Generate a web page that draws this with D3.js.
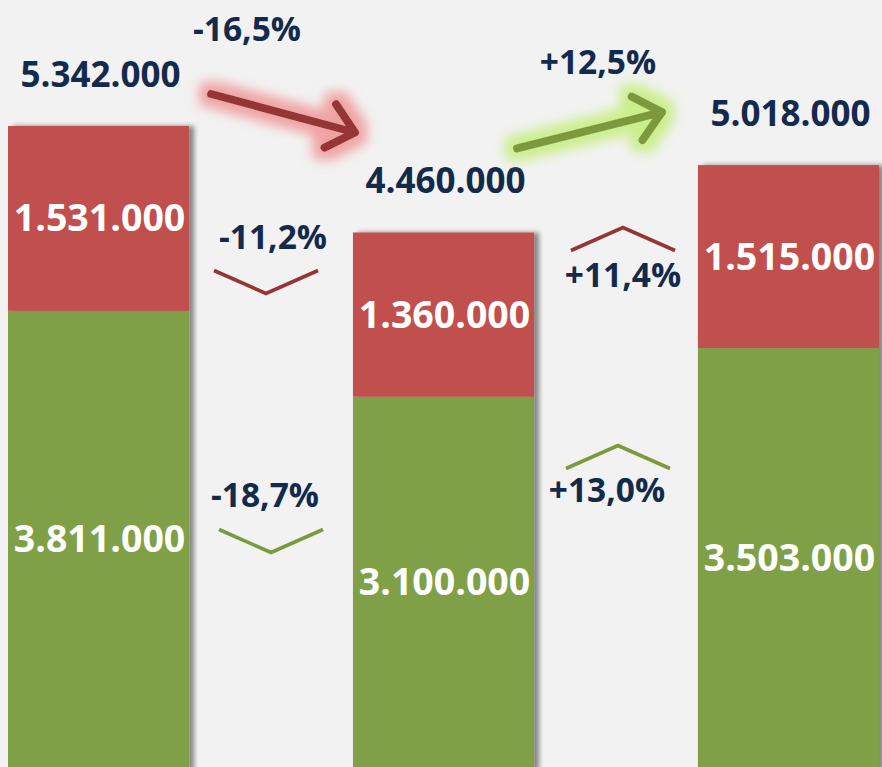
<!DOCTYPE html>
<html><head><meta charset="utf-8">
<script src="https://cdn.jsdelivr.net/npm/d3@7/dist/d3.min.js"></script>
<style>
html,body{margin:0;padding:0;background:#f2f2f2;overflow:hidden}
svg{display:block}
</style></head>
<body>
<svg id="chart" width="882" height="767"></svg>
<script>
// ---- data ----
const categories = ["A", "B", "C"];
const greenValues = [3811000, 3100000, 3503000];
const redValues   = [1531000, 1360000, 1515000];

// ---- style ----
const W = 882, H = 767;
const RED = "#c0504d", GREEN = "#80a046";
const RED_DARK = "#963634", GREEN_DARK = "#7c9a3c";
const NAVY = "#142a4c";
const FONT = "'Open Sans', Lato, sans-serif";

const loc = d3.formatLocale({decimal: ",", thousands: ".", grouping: [3], currency: ["", ""]});
const fmtNum = loc.format(",d");
const fmtPct = v => (v > 0 ? "+" : "-") + loc.format(".1f")(Math.abs(v) * 100) + "%";

const totals = categories.map((c, i) => greenValues[i] + redValues[i]);

const svg = d3.select("#chart");
svg.append("rect").attr("width", W).attr("height", H).attr("fill", "#f2f2f2");

const x = d3.scaleBand().domain(categories).range([8, 879]).paddingInner(0.475).paddingOuter(0);
const y = d3.scaleLinear().domain([0, d3.max(totals)]).range([771, 126]);
const bw = x.bandwidth();

const defs = svg.append("defs");
const sh = defs.append("filter").attr("id", "shadow").attr("x", "-10%").attr("y", "-10%").attr("width", "130%").attr("height", "130%");
sh.append("feDropShadow").attr("dx", 5).attr("dy", 0).attr("stdDeviation", 2.5)
  .attr("flood-color", "#000").attr("flood-opacity", 0.45);
function glow(id, color, op) {
  const f = defs.append("filter").attr("id", id).attr("x", "-30%").attr("y", "-90%").attr("width", "160%").attr("height", "280%");
  f.append("feMorphology").attr("in", "SourceAlpha").attr("operator", "dilate").attr("radius", 8).attr("result", "d");
  f.append("feGaussianBlur").attr("in", "d").attr("stdDeviation", 6).attr("result", "b");
  f.append("feFlood").attr("flood-color", color).attr("flood-opacity", op);
  f.append("feComposite").attr("in2", "b").attr("operator", "in").attr("result", "g");
  const m = f.append("feMerge");
  m.append("feMergeNode").attr("in", "g");
  m.append("feMergeNode").attr("in", "SourceGraphic");
}
glow("glowRed", "#f09a9a", 0.9);
glow("glowGreen", "#c6ee80", 0.9);

// ---- bars ----
const stack = categories.map((c, i) => ({c, g: greenValues[i], r: redValues[i], t: totals[i]}));
const bars = svg.append("g").attr("filter", "url(#shadow)");
bars.selectAll("rect.g").data(stack).join("rect")
  .attr("x", d => x(d.c)).attr("width", bw)
  .attr("y", d => y(d.g)).attr("height", d => y(0) - y(d.g)).attr("fill", GREEN);
bars.selectAll("rect.r").data(stack).join("rect")
  .attr("x", d => x(d.c)).attr("width", bw)
  .attr("y", d => y(d.t)).attr("height", d => y(d.g) - y(d.t)).attr("fill", RED);

// ---- labels inside ----
const lab = svg.append("g").attr("font-family", FONT).attr("font-weight", 700).attr("text-anchor", "middle");
lab.selectAll("text.rv").data(stack).join("text")
  .attr("x", d => x(d.c) + bw / 2 + 1).attr("y", d => (y(d.t) + y(d.g)) / 2 + 13)
  .attr("font-size", 37.5).attr("fill", "#fff").text(d => fmtNum(d.r));
lab.selectAll("text.gv").data(stack).join("text")
  .attr("x", d => x(d.c) + bw / 2 + 1).attr("y", d => (y(d.g) + y(0)) / 2 + 11)
  .attr("font-size", 37.5).attr("fill", "#fff").text(d => fmtNum(d.g));
lab.selectAll("text.tv").data(stack).join("text")
  .attr("x", d => x(d.c) + bw / 2 + 2).attr("y", d => y(d.t) - 39)
  .attr("font-size", 35).attr("fill", NAVY).text(d => fmtNum(d.t));

// ---- change annotations ----
const ann = svg.append("g");
function chevron(cx, cy, up, color) {
  const hw = 52, hh = 23;
  const pts = up ? [[cx - hw, cy + hh / 2], [cx, cy - hh / 2], [cx + hw, cy + hh / 2]]
                 : [[cx - hw, cy - hh / 2], [cx, cy + hh / 2], [cx + hw, cy - hh / 2]];
  ann.append("path").attr("d", d3.line()(pts)).attr("fill", "none")
    .attr("stroke", color).attr("stroke-width", 3.6);
}
function pctText(cx, base, txt) {
  ann.append("text").attr("x", cx).attr("y", base).attr("text-anchor", "middle")
    .attr("font-family", FONT).attr("font-weight", 700).attr("font-size", 33.5)
    .attr("fill", NAVY).text(txt);
}
function arrow(x1, y1, x2, y2, color, filt) {
  const a = Math.atan2(y2 - y1, x2 - x1), L = 34, s = 0.72;
  const p1 = [x2 - L * Math.cos(a - s), y2 - L * Math.sin(a - s)];
  const p2 = [x2 - L * Math.cos(a + s), y2 - L * Math.sin(a + s)];
  const g = ann.append("g").attr("filter", `url(#${filt})`);
  g.append("path").attr("d", `M${x1},${y1}L${x2},${y2}M${p1[0]},${p1[1]}L${x2},${y2}L${p2[0]},${p2[1]}`)
    .attr("fill", "none").attr("stroke", color).attr("stroke-width", 8)
    .attr("stroke-linecap", "round").attr("stroke-linejoin", "round");
}

for (let i = 0; i < categories.length - 1; i++) {
  const left = x(categories[i]) + bw, right = x(categories[i + 1]);
  const gc = (left + right) / 2;
  const dT = totals[i + 1] / totals[i] - 1;
  const dR = redValues[i + 1] / redValues[i] - 1;
  const dG = greenValues[i + 1] / greenValues[i] - 1;
  if (i === 0) {
    arrow(left + 22, y(totals[i]) - 32, right + 2, y(totals[i + 1]) - 100, RED_DARK, "glowRed");
    pctText(gc - 24, 41, fmtPct(dT));
    chevron(gc - 5, 282, dR > 0, RED_DARK);
    pctText(gc + 2, 249, fmtPct(dR));
    chevron(gc, 541, dG > 0, GREEN_DARK);
    pctText(gc - 6, 507, fmtPct(dG));
  } else {
    arrow(left - 17, y(totals[i]) - 84, right - 36, y(totals[i + 1]) - 53, GREEN_DARK, "glowGreen");
    pctText(gc - 18, 74, fmtPct(dT));
    chevron(gc + 7, 239, dR > 0, RED_DARK);
    pctText(gc + 7, 287, fmtPct(dR));
    chevron(gc + 2, 457, dG > 0, GREEN_DARK);
    pctText(gc - 9, 502, fmtPct(dG));
  }
}
</script>
</body></html>
